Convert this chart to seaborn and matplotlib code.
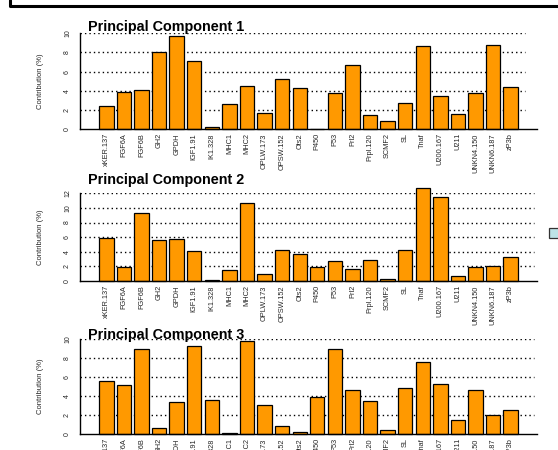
import matplotlib
matplotlib.use("Agg")
import matplotlib.pyplot as plt
from matplotlib.lines import Line2D
from matplotlib.patches import Rectangle
import seaborn as sns

genes = ["xKER.137", "FGF6A", "FGF6B", "GH2", "GPDH", "IGF1.91", "IK1.328",
         "MHC1", "MHC2", "OPLW.173", "OPSW.152", "Ots2", "P450", "P53", "Prl2",
         "Prpl.120", "SCMF2", "SL", "Tnaf", "U200.167", "U211", "UNKN4.150",
         "UNKN6.187", "zP3b"]

pc1 = [2.4, 3.9, 4.1, 8.0, 9.7, 7.1, 0.2, 2.6, 4.5, 1.7, 5.2, 4.3, 0.0, 3.8,
       6.7, 1.5, 0.8, 2.7, 8.7, 3.5, 1.6, 3.8, 8.8, 4.35]
pc2 = [5.9, 1.95, 9.35, 5.6, 5.7, 4.1, 0.1, 1.5, 10.7, 0.9, 4.2, 3.65, 1.9,
       2.7, 1.6, 2.9, 0.3, 4.2, 12.7, 11.45, 0.73, 1.87, 2.0, 3.33]
pc3 = [5.6, 5.2, 9.0, 0.67, 3.35, 9.25, 3.56, 0.07, 9.82, 3.06, 0.88, 0.25,
       3.87, 8.94, 4.65, 3.45, 0.46, 4.86, 7.57, 5.28, 1.51, 4.68, 2.04, 2.54]

titles = ["Principal Component 1", "Principal Component 2", "Principal Component 3"]
ylims = [10, 12, 10]
y_label = "Contribution (%)"

sns.set_theme(style="white")
plt.rcParams["font.family"] = ["Liberation Sans", "DejaVu Sans"]

fig = plt.figure(figsize=(5.58, 4.5), dpi=100)
W, H = 558.0, 450.0

# axes boxes in pixel terms: (top, bottom)
boxes = [(33.3, 129.0), (193.3, 281.0), (339.3, 434.0)]
title_base = [30.7, 184.3, 338.7]
grid_end = [0.974, 0.993, 0.993]
left_px, right_px = 80.0, 537.0

for vals, title, ymax, (top, bot), tb, ge in zip([pc1, pc2, pc3], titles, ylims,
                                                 boxes, title_base, grid_end):
    ax = fig.add_axes([left_px / W, 1 - bot / H, (right_px - left_px) / W, (bot - top) / H])
    ax.set_axisbelow(True)
    ticks = list(range(0, ymax + 1, 2))
    # dotted reference lines at each tick
    for t in ticks[1:]:
        ax.axhline(t, xmin=0, xmax=ge, linestyle=(0, (1, 2.2)), color="black",
                   linewidth=1.0, zorder=0.5)
    sns.barplot(x=genes, y=vals, ax=ax, color="#FF9900", saturation=1,
                edgecolor="black", linewidth=0.9, width=0.82)
    for p in ax.patches:
        p.set_clip_on(False)
    ax.set_xlim(-1.5, len(genes) + 0.5)
    ax.set_ylim(0, ymax)
    ax.set_yticks(ticks)
    ax.grid(False)
    for s in ["top", "right"]:
        ax.spines[s].set_visible(False)
    for s in ["left", "bottom"]:
        ax.spines[s].set_color("black")
        ax.spines[s].set_linewidth(1.0)
    ax.tick_params(axis="y", length=2.5, width=0.8, color="black", pad=4,
                   labelsize=5, labelrotation=90)
    for lab in ax.get_yticklabels():
        lab.set_va("center")
    ax.tick_params(axis="x", length=0, pad=3, labelsize=5.3, labelrotation=90)
    ax.set_xlabel("")
    ax.set_ylabel(y_label, fontsize=5.5)
    ax.yaxis.set_label_coords((44 - left_px) / (right_px - left_px), 0.5)
    fig.text(88 / W, 1 - tb / H, title, fontsize=10.4, fontweight="bold",
             ha="left", va="baseline", color="black")

# frame edge and legend box peeking in from outside the plot area
fig.add_artist(Line2D([10 / W, 10 / W, 1.0], [1.0, 1 - 6 / H, 1 - 6 / H],
                      transform=fig.transFigure, color="black", linewidth=2.2))
fig.add_artist(Rectangle((548.5 / W, 1 - 238 / H), 15 / W, 10 / H,
                         transform=fig.transFigure, facecolor="#BEE3E6",
                         edgecolor="#333333", linewidth=0.9, clip_on=False))

fig.savefig("out.png", dpi=100)
